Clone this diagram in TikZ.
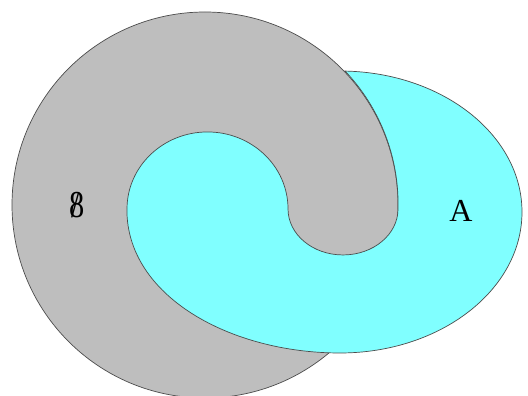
\documentclass[tikz,border=0pt]{standalone}
\usepackage{fontspec}
\setmainfont{Liberation Serif}
\definecolor{sgray}{RGB}{190,190,190}
\definecolor{acyan}{RGB}{128,255,255}
\begin{document}
\begin{tikzpicture}[x=1pt,y=1pt,
  outline/.style={draw=black!70, line width=0.7pt},
  labeltext/.style={inner sep=0pt, font=\fontsize{32}{32}\selectfont}]
\useasboundingbox (0,0) rectangle (528,396);
\clip (0,0) rectangle (528,396);
\fill[white] (0,0) rectangle (528,396);
% gray set S (big disc)
\path[outline, fill=sgray] (205,191) circle[radius=193];
% cyan set A, in front in the lower left, behind in the upper right
\path[outline, fill=acyan] (126.9,186) .. controls (127,100) and (230,43) .. (340,43)
  arc[start angle=-90, end angle=88.4, x radius=182, y radius=141]
  arc[start angle=43.5, end angle=-1.5, radius=193]
  arc[start angle=0, end angle=-180, x radius=55, y radius=46]
  arc[start angle=0, end angle=180, x radius=80.5, y radius=77]
  -- cycle;
\node[labeltext, font=\fontsize{38}{38}\selectfont, xscale=0.8] (S) at (77,191)
  {\ooalign{8\cr\hidewidth\kern-4pt/\hidewidth}};
\node[labeltext] (A) at (461,185) {A};
\end{tikzpicture}
\end{document}
